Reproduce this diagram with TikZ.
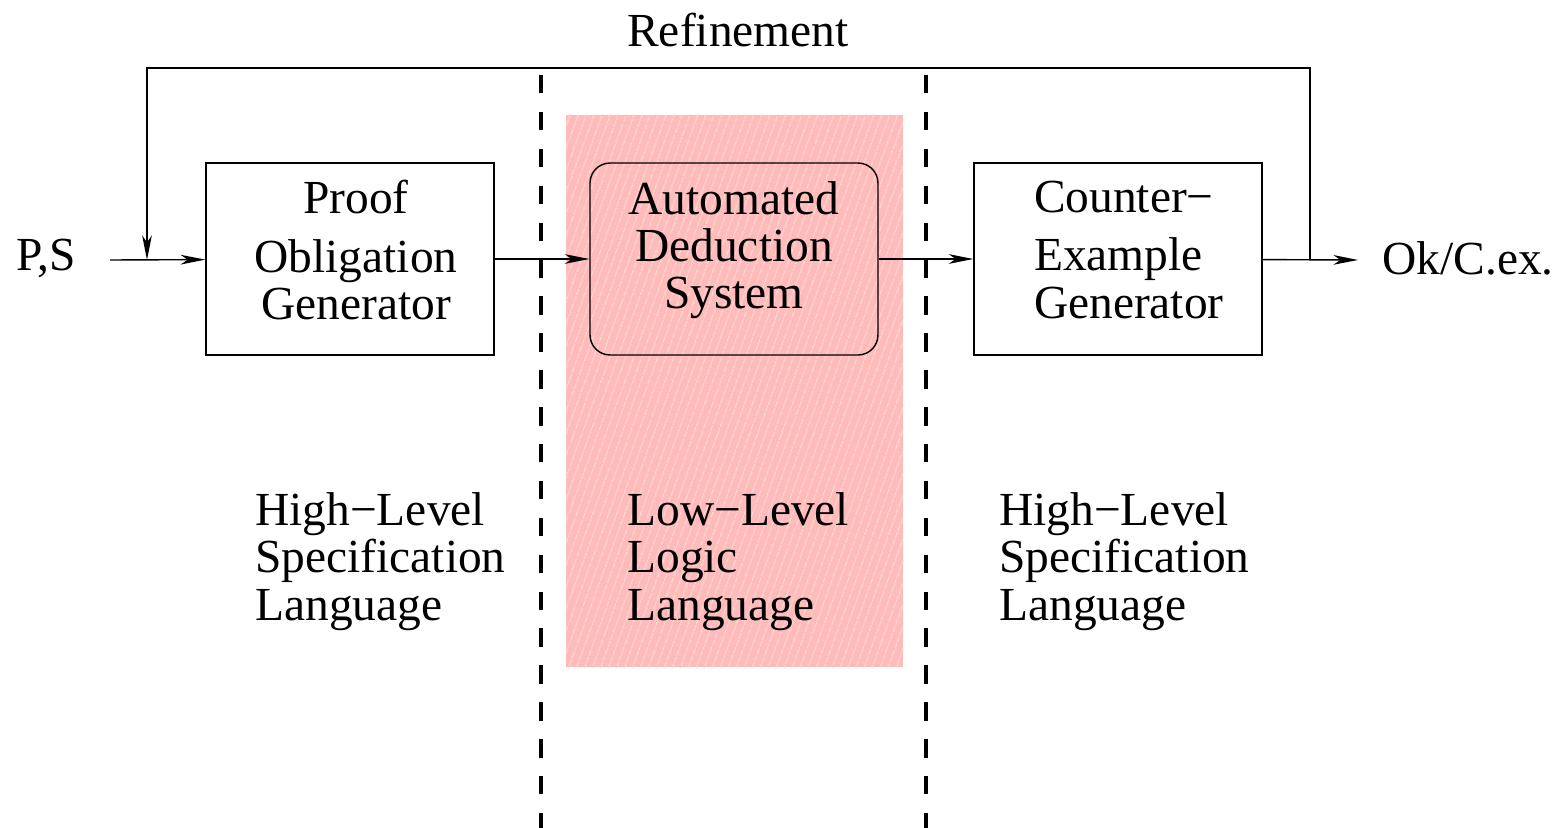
\documentclass[tikz,border=0pt]{standalone}
\usepackage{fontspec}
\setmainfont{Liberation Serif}
\usetikzlibrary{arrows.meta,patterns.meta}
\definecolor{deductpink}{RGB}{255,186,186}

\begin{document}
\begin{tikzpicture}[x=0.02cm,y=-0.02cm,font=\fontsize{27}{27}\selectfont,
  box/.style={rectangle,draw,line width=0.8pt,minimum width=5.76cm,minimum height=3.84cm,inner sep=0pt,align=center,text depth=0.36cm},
  roundbox/.style={box,rounded corners=0.4cm,text depth=0.56cm},
  flow/.style={line width=0.8pt,-{Stealth[length=14pt,width=5.5pt,inset=4pt]}},
  divider/.style={line width=2.2pt,dash pattern=on 10.5pt off 10.5pt},
  note/.style={align=left,anchor=north west,inner sep=0pt}]
\useasboundingbox (0,0) rectangle (1562,828);
% shaded low-level zone
\fill[deductpink] (566,115) rectangle (903,667);
\fill[pattern={Lines[angle=70,distance=4pt,line width=0.8pt]},pattern color=white!45!deductpink] (566,115) rectangle (903,667);
\draw[divider] (541,75) -- (541,828);
\draw[divider] (926,75) -- (926,828);
\coordinate (P) at (350,259);
\coordinate (D) at (734,259);
\coordinate (C) at (1118,259);
\coordinate (In) at (110,260);
\coordinate (Out) at (1358,260);
\coordinate (Back) at (1310,260);
\coordinate (Entry) at (147,260);
\node[box] (pog) at (P) {\hspace*{0.24cm}Proof\\[0.22cm]\hspace*{0.24cm}Obligation\\\hspace*{0.24cm}Generator};
\node[roundbox] (ads) at (D) {Automated\\Deduction\\System};
\node[box,align=left,text width=3.36cm,text depth=2.5cm] (ceg) at (C) {Counter−\\[0.22cm]Example\\Generator};
\node (ps) at (46,258) {P,S};
\node (ok) at (1468,258) {Ok/C.ex.};
\node (ref) at (738,30) {Refinement};
\draw[flow] (In) -- (pog);
\draw[flow] (pog) -- (ads);
\draw[flow] (ads) -- (ceg);
\draw[flow] (ceg) -- (Out);
\draw[flow] (Back) |- (738,68) -| (Entry);
\node[note] (hl1) at (255,492) {High−Level\\Specification\\Language};
\node[note] (ll) at (627,492) {Low−Level\\Logic\\Language};
\node[note] (hl2) at (999,492) {High−Level\\Specification\\Language};
\end{tikzpicture}
\end{document}
